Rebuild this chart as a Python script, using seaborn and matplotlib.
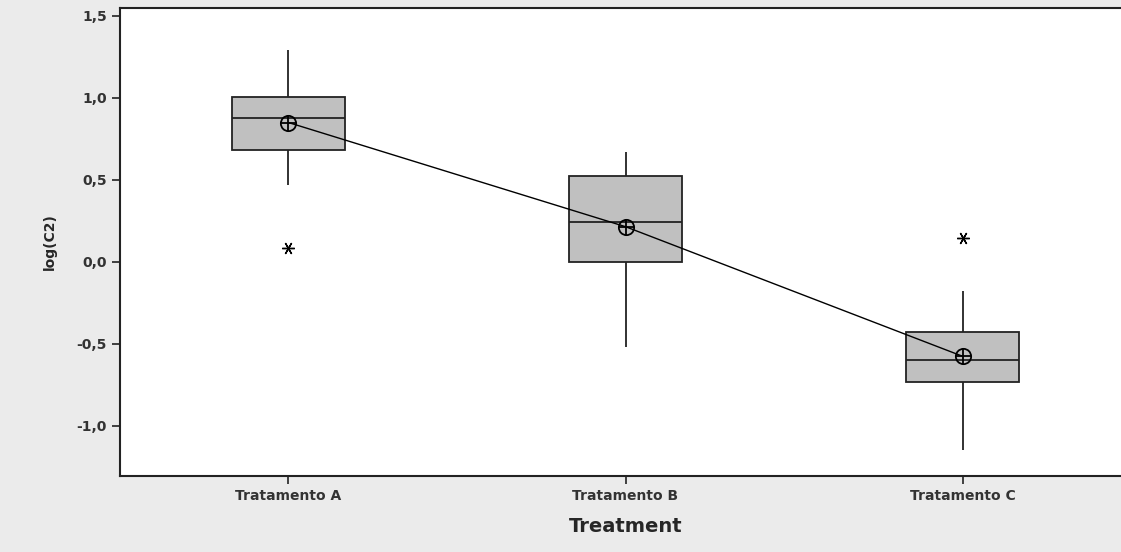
import numpy as np
import pandas as pd
import matplotlib
matplotlib.use('Agg')
import matplotlib.pyplot as plt
import seaborn as sns
from matplotlib.ticker import FuncFormatter

# values
categories = ['Tratamento A', 'Tratamento B', 'Tratamento C']
trat_a = [0.085, 0.47, 0.68, 0.76, 0.88, 0.95, 1.005, 1.15, 1.29]
trat_b = [-0.52, -0.25, 0.0, 0.12, 0.245, 0.38, 0.525, 0.60, 0.67]
trat_c = [-1.145, -0.85, -0.73, -0.66, -0.60, -0.50, -0.43, -0.18, 0.145]
means = [0.85, 0.215, -0.575]

df = pd.DataFrame({
    'Treatment': [categories[0]] * len(trat_a) + [categories[1]] * len(trat_b) + [categories[2]] * len(trat_c),
    'logC2': trat_a + trat_b + trat_c,
})

sns.set_style('white')
plt.rcParams['font.family'] = ['DejaVu Sans']

fig = plt.figure(figsize=(11.21, 5.52), dpi=100, facecolor='#ebebeb')
ax = fig.add_axes([0.107, 0.1377, 0.902, 0.848])
ax.set_facecolor('white')

sns.boxplot(data=df, x='Treatment', y='logC2', order=categories, ax=ax,
            width=0.335, color='#c0c0c0', showcaps=False, whis=1.5,
            linecolor='black', linewidth=1.3,
            boxprops=dict(facecolor='#c0c0c0', edgecolor='#222222'),
            medianprops=dict(color='#222222', linewidth=1.3),
            whiskerprops=dict(color='#222222', linewidth=1.3),
            flierprops=dict(marker=(6, 2, 90), markersize=9, markeredgecolor='black',
                            markeredgewidth=1.0))

# mean connect line
ax.plot(range(len(categories)), means, color='black', linewidth=1.0, zorder=5)
ax.plot(range(len(categories)), means, linestyle='none', marker='o', markersize=11,
        markerfacecolor='none', markeredgecolor='black', markeredgewidth=1.3, zorder=6)
ax.plot(range(len(categories)), means, linestyle='none', marker='+', markersize=11,
        markeredgecolor='black', markeredgewidth=1.3, zorder=6)

ax.set_xlim(-0.5, 2.5)
ax.set_ylim(-1.305, 1.549)
ax.set_yticks([-1.0, -0.5, 0.0, 0.5, 1.0, 1.5])
ax.yaxis.set_major_formatter(FuncFormatter(lambda v, p: f'{v:.1f}'.replace('.', ',')))

for s in ax.spines.values():
    s.set_color('#222222')
    s.set_linewidth(1.5)

ax.tick_params(axis='both', which='major', direction='out', length=6, width=1.2,
               color='#222222', labelsize=10, left=True, bottom=True)
for lbl in ax.get_xticklabels() + ax.get_yticklabels():
    lbl.set_fontweight('bold')
    lbl.set_color('#333333')

ax.set_xlabel('Treatment', fontsize=14, fontweight='bold', labelpad=10)
ax.set_ylabel('log(C2)', fontsize=10, fontweight='bold', labelpad=14)

fig.savefig('out.png', dpi=100, facecolor=fig.get_facecolor())
